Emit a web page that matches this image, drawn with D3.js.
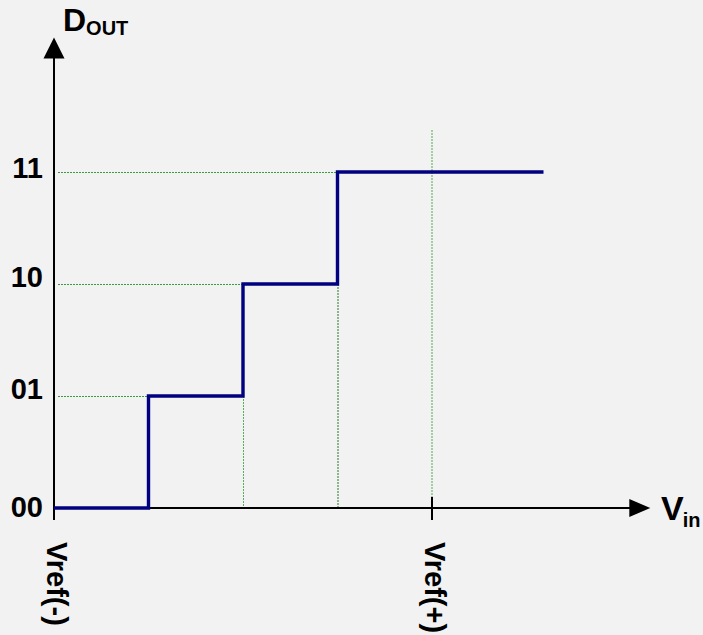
<!DOCTYPE html>
<html>
<head>
<meta charset="utf-8">
<script src="https://cdn.jsdelivr.net/npm/d3@7"></script>
<style>
  html, body { margin: 0; padding: 0; background: #f2f2f2; }
  svg text { font-family: "Liberation Sans", Arial, Helvetica, sans-serif; }
</style>
</head>
<body>
<script>
// ---- data ----
const codes = ["00", "01", "10", "11"];          // output codes (levels 0..3)
const stepVin = [0, 1, 2, 3, 5.18];              // input values where code changes (and line end)
const stepCode = [0, 1, 2, 3, 3];                // code held from each stepVin
const vrefVin = [0, 4];                           // reference voltages on Vin axis
const vrefLabels = ["Vref(-)", "Vref(+)"];

const W = 703, H = 635;
const FONT = "Liberation Sans, Arial, Helvetica, sans-serif";
const svg = d3.select("body").append("svg").attr("width", W).attr("height", H)
  .style("display", "block");
svg.append("rect").attr("width", W).attr("height", H).attr("fill", "#f2f2f2");

const x = d3.scaleLinear().domain([0, 4]).range([54, 432]);
const y = d3.scaleLinear().domain([0, 3]).range([508, 172]);

const green = "#3c9c3c";
const x0 = x(0), y0 = y(0);

// horizontal dotted guide lines from y-axis to step position
codes.forEach((c, i) => {
  if (i === 0) return;
  svg.append("line")
    .attr("x1", x0 + 4).attr("x2", x(stepVin[i]))
    .attr("y1", y(i) + 0.5).attr("y2", y(i) + 0.5)
    .attr("stroke", green).attr("stroke-width", 1)
    .attr("stroke-dasharray", "2,1");
});
// vertical dotted guide lines from step down to axis (steps 2 and 3)
[2, 3].forEach(i => {
  svg.append("line")
    .attr("x1", x(stepVin[i]) + 0.5).attr("x2", x(stepVin[i]) + 0.5)
    .attr("y1", y(i - 1)).attr("y2", y0)
    .attr("stroke", i === 3 ? "#2a7a2a" : "#5aae5a").attr("stroke-width", 1)
    .attr("stroke-dasharray", "2,1");
});
// Vref(+) vertical dotted line
svg.append("line")
  .attr("x1", x(vrefVin[1])).attr("x2", x(vrefVin[1]))
  .attr("y1", y(3.375)).attr("y2", y0)
  .attr("stroke", "#6ab86a").attr("stroke-width", 1.2)
  .attr("stroke-dasharray", "2,1");

// axes
const axisTop = y(4.2), axisBottom = y0 + 12;
const xEnd = x(6.31);
svg.append("line").attr("x1", x0).attr("x2", x0).attr("y1", axisTop + 15).attr("y2", axisBottom)
  .attr("stroke", "#000").attr("stroke-width", 2);
svg.append("path")
  .attr("d", `M${x0},${axisTop} L${x0 - 10.5},${axisTop + 21} L${x0 + 10.5},${axisTop + 21} Z`)
  .attr("fill", "#000");
svg.append("line").attr("x1", x0).attr("x2", xEnd - 15).attr("y1", y0).attr("y2", y0)
  .attr("stroke", "#000").attr("stroke-width", 2);
svg.append("path")
  .attr("d", `M${xEnd},${y0} L${xEnd - 21},${y0 - 9} L${xEnd - 21},${y0 + 9} Z`)
  .attr("fill", "#000");
// tick at Vref(+)
svg.append("line").attr("x1", x(vrefVin[1])).attr("x2", x(vrefVin[1]))
  .attr("y1", y0 - 11).attr("y2", y0 + 12)
  .attr("stroke", "#000").attr("stroke-width", 2);

// transfer staircase
const pts = stepVin.map((v, i) => [x(v), y(stepCode[i])]);
svg.append("path")
  .attr("d", d3.line().curve(d3.curveStepAfter)(pts))
  .attr("fill", "none").attr("stroke", "#000080").attr("stroke-width", 3.4)
  .attr("stroke-linejoin", "miter");

// y labels
codes.forEach((c, i) => {
  svg.append("text")
    .attr("x", 43).attr("y", y(i) + (i === 0 ? 9 : (i === 3 ? 6 : 3)))
    .attr("text-anchor", "end")
    .attr("font-family", FONT)
    .attr("font-size", 29).attr("font-weight", "bold")
    .text(c);
});

// Vref labels (rotated)
vrefVin.forEach((v, i) => {
  svg.append("text")
    .attr("transform", `translate(${x(v) - 7},542) rotate(90)`)
    .attr("font-family", FONT)
    .attr("font-size", 29).attr("font-weight", "bold")
    .text(vrefLabels[i]);
});

// axis titles
const dt = svg.append("text").attr("x", 63).attr("y", 31)
  .attr("font-family", FONT).attr("font-weight", "bold");
dt.append("tspan").attr("font-size", 32).text("D");
dt.append("tspan").attr("font-size", 20).attr("dy", 4).text("OUT");

const vt = svg.append("text").attr("x", 661).attr("y", 520)
  .attr("font-family", FONT).attr("font-weight", "bold");
vt.append("tspan").attr("font-size", 34).text("V");
vt.append("tspan").attr("font-size", 20).attr("dy", 7).attr("dx", -1).text("in");
</script>
</body>
</html>
